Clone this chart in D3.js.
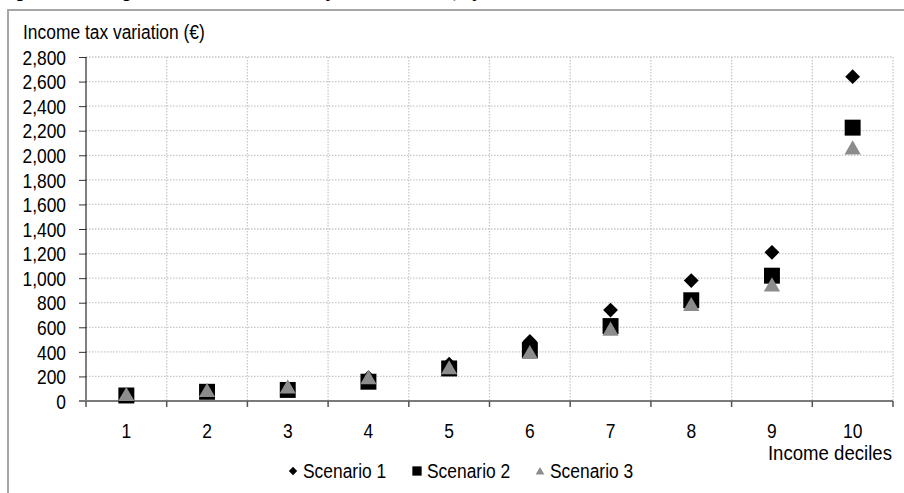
<!DOCTYPE html>
<html>
<head>
<meta charset="utf-8">
<script src="https://cdn.jsdelivr.net/npm/d3@7"></script>
<style>
  body { margin: 0; background: #fff; }
  text { font-family: "Liberation Sans", Arial, sans-serif; }
</style>
</head>
<body>
<div id="viz"></div>
<script>
//-------Data-----------
var deciles = ["1", "2", "3", "4", "5", "6", "7", "8", "9", "10"];
var scenario1 = [45, 75, 100, 190, 300, 485, 740, 980, 1210, 2640];
var scenario2 = [45, 75, 90, 157, 265, 415, 610, 820, 1020, 2225];
var scenario3 = [38, 70, 100, 175, 255, 380, 570, 770, 930, 2045];
var yTicks = [0, 200, 400, 600, 800, 1000, 1200, 1400, 1600, 1800, 2000, 2200, 2400, 2600, 2800];
var seriesNames = ["Scenario 1", "Scenario 2", "Scenario 3"];

//---------------------------------
var width = 904,
    height = 493;
var plotLeft = 86, plotRight = 893, plotTop = 57, plotBottom = 401;

var svg = d3.select("#viz")
  .append("svg")
    .attr("width", width)
    .attr("height", height);

// squeeze text horizontally to look like a narrow font
function narrow(sel, size, k) {
    k = k || 0.87;
    sel.style("font-size", size + "px").each(function() {
        var w = this.getComputedTextLength();
        d3.select(this)
            .attr("textLength", w * k)
            .attr("lengthAdjust", "spacingAndGlyphs");
    });
}

// clipped figure title at the very top
svg.append("text")
    .attr("x", 0)
    .attr("y", -2)
    .style("font-weight", "bold")
    .style("font-size", "17px")
    .text("Figure 3. Average income tax variation by income decile, by reform scenario");

// outer frame
svg.append("path")
    .attr("d", "M8," + (height + 5) + "V10H" + (width + 5))
    .style("fill", "none")
    .style("stroke", "#a6a6a6")
    .style("stroke-width", 2);

//------Scales-----------
var xScale = d3.scaleBand()
    .domain(deciles)
    .range([plotLeft, plotRight])
    .padding(0);

var yScale = d3.scaleLinear()
    .domain([0, 2800])
    .range([plotBottom, plotTop]);

var boundaries = deciles.map(d => xScale(d)).concat([xScale.range()[1]]);

//------Grid-------------
var grid = svg.append("g").attr("id", "grid");
grid.selectAll(".hgrid")
    .data(yTicks.filter(d => d > 0))
    .enter().append("line")
    .attr("x1", plotLeft)
    .attr("x2", plotRight)
    .attr("y1", d => yScale(d))
    .attr("y2", d => yScale(d))
    .style("stroke", "#c8c8c8")
    .style("stroke-width", 1.3)
    .style("stroke-dasharray", "1.5,1.5");
grid.selectAll(".vgrid")
    .data(boundaries.slice(1))
    .enter().append("line")
    .attr("x1", d => d)
    .attr("x2", d => d)
    .attr("y1", plotTop)
    .attr("y2", plotBottom)
    .style("stroke", "#c8c8c8")
    .style("stroke-width", 1.3)
    .style("stroke-dasharray", "1.5,1.5");

//------Axes-------------
var yAxis = d3.axisLeft(yScale)
    .tickValues(yTicks)
    .tickSize(7)
    .tickPadding(13)
    .tickFormat(d3.format(","));

var gYAxis = svg.append("g")
    .attr("id", "y-axis")
    .attr("transform", "translate(" + plotLeft + ",0)")
    .call(yAxis);
gYAxis.select(".domain").remove();
gYAxis.append("line")
    .attr("x1", 0).attr("x2", 0)
    .attr("y1", plotTop).attr("y2", plotBottom)
    .style("stroke", "#000")
    .style("stroke-width", 1);
gYAxis.selectAll(".tick line").style("stroke", "#333");
gYAxis.selectAll("text")
    .style("fill", "#000")
    .attr("dy", "0.36em")
    .call(narrow, 20);

var xAxis = d3.axisBottom(xScale)
    .tickSize(0)
    .tickPadding(23);

var gXAxis = svg.append("g")
    .attr("id", "x-axis")
    .attr("transform", "translate(0," + plotBottom + ")")
    .call(xAxis);
gXAxis.select(".domain").remove();
gXAxis.selectAll("text")
    .style("fill", "#000")
    .call(narrow, 20);
gXAxis.append("line")
    .attr("x1", plotLeft - 7).attr("x2", plotRight)
    .attr("y1", 0).attr("y2", 0)
    .style("stroke", "#7a7a7a")
    .style("stroke-width", 2);
gXAxis.selectAll(".xtick")
    .data(boundaries)
    .enter().append("line")
    .attr("x1", d => d).attr("x2", d => d)
    .attr("y1", 0).attr("y2", 6)
    .style("stroke", "#555")
    .style("stroke-width", 1.5);

// axis titles
svg.append("text")
    .attr("x", 23)
    .attr("y", 39)
    .text("Income tax variation (€)")
    .call(narrow, 20);

svg.append("text")
    .attr("x", plotRight - 1)
    .attr("y", 460)
    .attr("text-anchor", "end")
    .text("Income deciles")
    .call(narrow, 20, 0.93);

//------Markers----------
var symbols = [d3.symbolDiamond2, d3.symbolSquare2, d3.symbolTriangle2];
var symbolSizes = [140, 324, 190];
var fills = ["#000", "#000", "#8c8c8c"];
var allSeries = [scenario1, scenario2, scenario3];

allSeries.forEach((values, i) => {
    svg.append("g")
        .attr("class", "series")
        .selectAll("path")
        .data(values)
        .enter().append("path")
        .attr("transform", (d, j) => "translate(" + (xScale(deciles[j]) + xScale.bandwidth() / 2) + "," + yScale(d) + ")")
        .attr("d", d3.symbol().type(symbols[i]).size(symbolSizes[i]))
        .style("fill", fills[i]);
});

//------Legend-----------
var legendX = [293, 417, 540];
var legendSizes = [45, 110, 55];
var legend = svg.append("g").attr("id", "legend");
seriesNames.forEach((name, i) => {
    var g = legend.append("g").attr("transform", "translate(" + legendX[i] + ",471)");
    g.append("path")
        .attr("d", d3.symbol().type(symbols[i]).size(legendSizes[i]))
        .style("fill", fills[i])
        .attr("transform", i === 2 ? "translate(0,1)" : null);
    g.append("text")
        .attr("x", 10)
        .attr("y", 0)
        .attr("dy", "0.36em")
        .text(name)
        .call(narrow, 20);
});
</script>
</body>
</html>
